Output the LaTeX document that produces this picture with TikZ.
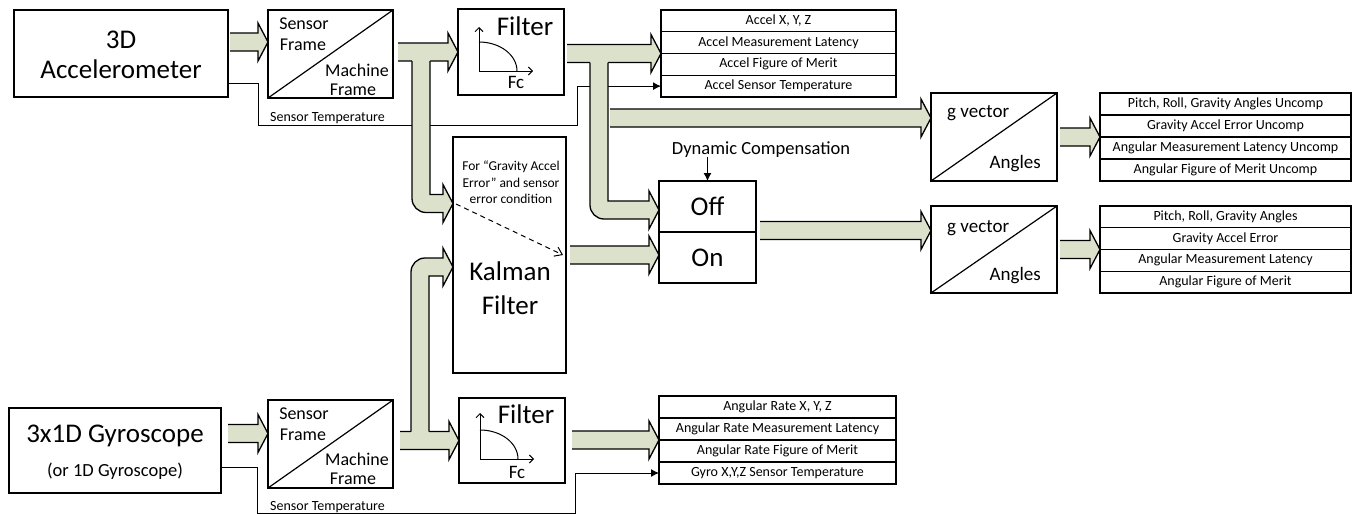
\documentclass[tikz,border=0pt]{standalone}
\usepackage{fontspec}
\setmainfont{Carlito}
\usetikzlibrary{calc,arrows.meta}
\definecolor{arrfill}{RGB}{220,225,204}
\tikzset{
  box/.style={draw=black,line width=1.2pt,fill=white,inner sep=0pt,outer sep=0pt,anchor=north west},
  rowbox/.style={box,font=\fontsize{14}{16}\selectfont,text height=9.5pt,text depth=2.5pt},
  arrline/.style={draw=black,line width=1.3pt,line join=miter},
  boxline/.style={draw=black,line width=1.2pt},
  thinline/.style={draw=black,line width=1pt},
  txt/.style={inner sep=0pt,anchor=base},
  big/.style={font=\fontsize{27}{32}\selectfont},
  mid/.style={font=\fontsize{18}{21}\selectfont},
  small/.style={font=\fontsize{14}{16}\selectfont},
  note/.style={font=\fontsize{13.5}{16}\selectfont},
  openhead/.style={-{Straight Barb[length=4pt,width=8pt]}},
  fillhead/.style={-{Latex[length=8pt,width=8pt]}},
}
\newcommand\fatarrow[2]{%
  \fill[arrfill] let \p1=#1,\p2=#2 in (\x1,\y2+9pt) -- (\x2-10pt,\y2+9pt) -- (\x2-10pt,\y2+19pt) -- (\x2,\y2) -- (\x2-10pt,\y2-19pt) -- (\x2-10pt,\y2-9pt) -- (\x1,\y2-9pt) -- cycle;
  \draw[arrline] let \p1=#1,\p2=#2 in (\x1,\y2+9pt) -- (\x2-10pt,\y2+9pt) -- (\x2-10pt,\y2+19pt) -- (\x2,\y2) -- (\x2-10pt,\y2-19pt) -- (\x2-10pt,\y2-9pt) -- (\x1,\y2-9pt);
}
\newcommand\bentdown[2]{%
  \fill[arrfill] let \p1=#1,\p2=#2 in (\x1,\y1+1.5pt) [rounded corners=14pt] -- (\x1,\y2-9pt) [sharp corners] -- (\x2-10pt,\y2-9pt) -- (\x2-10pt,\y2-19pt) -- (\x2,\y2) -- (\x2-10pt,\y2+19pt) -- (\x2-10pt,\y2+9pt) -- (\x1+18pt,\y2+9pt) -- (\x1+18pt,\y1+1.5pt) -- cycle;
  \draw[arrline] let \p1=#1,\p2=#2 in (\x1,\y1) [rounded corners=14pt] -- (\x1,\y2-9pt) [sharp corners] -- (\x2-10pt,\y2-9pt) -- (\x2-10pt,\y2-19pt) -- (\x2,\y2) -- (\x2-10pt,\y2+19pt) -- (\x2-10pt,\y2+9pt) -- (\x1+18pt,\y2+9pt) -- (\x1+18pt,\y1);
}
\newcommand\bentup[2]{%
  \fill[arrfill] let \p1=#1,\p2=#2 in (\x1,\y1-1.5pt) [rounded corners=14pt] -- (\x1,\y2+9pt) [sharp corners] -- (\x2-10pt,\y2+9pt) -- (\x2-10pt,\y2+19pt) -- (\x2,\y2) -- (\x2-10pt,\y2-19pt) -- (\x2-10pt,\y2-9pt) -- (\x1+18pt,\y2-9pt) -- (\x1+18pt,\y1-1.5pt) -- cycle;
  \draw[arrline] let \p1=#1,\p2=#2 in (\x1,\y1) [rounded corners=14pt] -- (\x1,\y2+9pt) [sharp corners] -- (\x2-10pt,\y2+9pt) -- (\x2-10pt,\y2+19pt) -- (\x2,\y2) -- (\x2-10pt,\y2-19pt) -- (\x2-10pt,\y2-9pt) -- (\x1+18pt,\y2-9pt) -- (\x1+18pt,\y1);
}
\begin{document}
\begin{tikzpicture}[x=1pt,y=1pt]
\useasboundingbox (0,0) rectangle (1353,-514);
% ---------- boxes
\node[box,minimum width=214pt,minimum height=87pt] (acc) at (14,-10) {};
\node[box,minimum width=125pt,minimum height=88pt] (afr) at (268,-10) {};
\node[box,minimum width=106pt,minimum height=86pt] (afil) at (458,-9) {};
\node[box,minimum width=113pt,minimum height=236pt] (kal) at (453,-137) {};
\node[box,minimum width=97pt,minimum height=51pt] (off) at (659,-181) {};
\node[box,minimum width=97pt,minimum height=51pt] (on) at (659,-232) {};
\node[box,minimum width=126pt,minimum height=88pt] (gv1) at (931,-93) {};
\node[box,minimum width=126pt,minimum height=87pt] (gv2) at (931,-206) {};
\node[box,minimum width=212pt,minimum height=85pt] (gyr) at (9,-408) {};
\node[box,minimum width=125pt,minimum height=88pt] (gfr) at (268,-400) {};
\node[box,minimum width=106pt,minimum height=85pt] (gfil) at (459,-398) {};
% ---------- output rows
\foreach \t [count=\i from 0] in {{Accel X, Y, Z},{Accel Measurement Latency},{Accel Figure of Merit},{Accel Sensor Temperature}}
  \node[rowbox,minimum width=235pt,minimum height=21.75pt] (ar\i) at (661,{-10-\i*21.75}) {\t};
\foreach \t [count=\i from 0] in {{Pitch, Roll, Gravity Angles Uncomp},{Gravity Accel Error Uncomp},{Angular Measurement Latency Uncomp},{Angular Figure of Merit Uncomp}}
  \node[rowbox,minimum width=251pt,minimum height=22pt] (ra\i) at (1100,{-93-\i*22}) {\t};
\foreach \t [count=\i from 0] in {{Pitch, Roll, Gravity Angles},{Gravity Accel Error},{Angular Measurement Latency},{Angular Figure of Merit}}
  \node[rowbox,minimum width=251pt,minimum height=21.75pt] (rb\i) at (1100,{-206-\i*21.75}) {\t};
\foreach \t [count=\i from 0] in {{Angular Rate X, Y, Z},{Angular Rate Measurement Latency},{Angular Rate Figure of Merit},{Gyro X,Y,Z Sensor Temperature}}
  \node[rowbox,minimum width=237pt,minimum height=22pt] (gr\i) at (659,{-396-\i*22}) {\t};
% ---------- diagonals
\draw[boxline] (afr.south west) -- (afr.north east);
\draw[boxline] (gfr.south west) -- (gfr.north east);
\draw[boxline] (gv1.south west) -- (gv1.north east);
\draw[boxline] (gv2.south west) -- (gv2.north east);
% ---------- sensor temperature lines
\draw[thinline,fillhead] ($(acc.north east)+(0,-73)$) -- ++(30,0) |- ($(ar3.west)+(-84,-39)$) |- (ar3.west);
\draw[thinline,fillhead] ($(gyr.north east)+(0,-59)$) -- ++(36,0) |- ($(gr3.west)+(-84,-40)$) |- (gr3.west);
\node[txt,small,anchor=base west] (st1) at (270,-121) {Sensor Temperature};
\node[txt,small,anchor=base west] (st2) at (270,-510) {Sensor Temperature};
% ---------- fat arrows
\fatarrow{($(acc.east)+(2,11.5)$)}{($(afr.west)+(0,12)$)}
\fatarrow{($(afr.east)+(5,0)$)}{(afil.west)}
\fatarrow{($(afil.east)+(3,0)$)}{(ar1.south west)}
\fatarrow{($(kal.east)+(4,0)$)}{($(on.west)+(0,2.5)$)}
\fatarrow{($(off.south east)+(4,0)$)}{($(gv2.west)+(0,19)$)}
\fatarrow{($(gv1.east)+(3,0)$)}{(ra1.south west)}
\fatarrow{($(gv2.east)+(3,0)$)}{(rb1.south west)}
\fatarrow{($(gyr.east)+(7,0)$)}{($(gfr.west)+(0,10.5)$)}
\fatarrow{($(gfr.east)+(7,0)$)}{(gfil.west)}
\fatarrow{($(gfil.east)+(7,0)$)}{(gr1.south west)}
\bentdown{($(afr.east |- afil.west)+(19,-9)$)}{($(kal.north west)+(0,-66.5)$)}
\bentdown{($(afil.east |- ar1.south west)+(26,-9)$)}{($(off.west)+(0,-3.5)$)}
\fatarrow{($(afil.east)+(46,0)$)}{($(gv1.west)+(0,19)$)}
\bentup{($(gfr.east |- gfil.west)+(18,9)$)}{($(kal.west)+(0,-12)$)}
% ---------- texts
\node[txt,big] (t3d) at (121,-48) {3D};
\node[txt,big] (tacc) at (121,-78) {Accelerometer};
\node[txt,big] (tgyr) at (115,-442) {3x1D Gyroscope};
\node[txt,font=\fontsize{18.5}{22}\selectfont] (tgyr2) at (115,-476) {(or 1D Gyroscope)};
\node[txt,mid] at (304,-29) {Sensor};
\node[txt,mid] at (303,-50) {Frame};
\node[txt,mid] at (357,-76) {Machine};
\node[txt,mid] at (353,-95) {Frame};
\node[txt,mid] at (304,-419) {Sensor};
\node[txt,mid] at (303,-440) {Frame};
\node[txt,mid] at (357,-465) {Machine};
\node[txt,mid] at (353,-484) {Frame};
\node[txt,big] at (525,-35) {Filter};
\node[txt,font=\fontsize{19}{22}\selectfont] at (516,-88) {Fc};
\node[txt,big] at (526,-423) {Filter};
\node[txt,font=\fontsize{19}{22}\selectfont] at (517,-478) {Fc};
\node[txt,note] at (511,-170) {For “Gravity Accel};
\node[txt,note] at (511,-187) {Error” and sensor};
\node[txt,note] at (511,-203) {error condition};
\node[txt,big] at (510,-280) {Kalman};
\node[txt,big] at (510,-314) {Filter};
\node[txt,big] at (707.5,-215) {Off};
\node[txt,big] at (707.5,-266) {On};
\node[txt,font=\fontsize{18.5}{22}\selectfont] (dyn) at (761,-154) {Dynamic Compensation};
\draw[thinline,-{Latex[length=8pt,width=8pt]}] (off.north |- dyn.south) -- (off.north);
\node[txt,font=\fontsize{19}{22}\selectfont,anchor=base west] at (947,-117) {g vector};
\node[txt,font=\fontsize{19}{22}\selectfont,anchor=base east] at (1041,-168) {Angles};
\node[txt,font=\fontsize{19}{22}\selectfont,anchor=base west] at (947,-232) {g vector};
\node[txt,font=\fontsize{19}{22}\selectfont,anchor=base east] at (1041,-280) {Angles};
% ---------- dashed arrow in Kalman box
\draw[thinline,dash pattern=on 5pt off 4pt,-{Straight Barb[length=7pt,width=10pt]}] ($(kal.north west)+(3,-67)$) -- ($(kal.north east)+(-3,-118)$);
% ---------- filter icons
\begin{scope}[shift={(afil.north west)}]
  \draw[thinline,openhead] (21,-62) -- (21,-18);
  \draw[thinline,openhead] (21,-62) -- (75,-62);
  \draw[thinline] (21,-33) arc[start angle=90,end angle=0,x radius=38,y radius=29];
\end{scope}
\begin{scope}[shift={(gfil.north west)}]
  \draw[thinline,openhead] (21,-61) -- (21,-15);
  \draw[thinline,openhead] (21,-61) -- (75,-61);
  \draw[thinline] (21,-32) arc[start angle=90,end angle=0,x radius=38,y radius=29];
\end{scope}
\end{tikzpicture}
\end{document}
